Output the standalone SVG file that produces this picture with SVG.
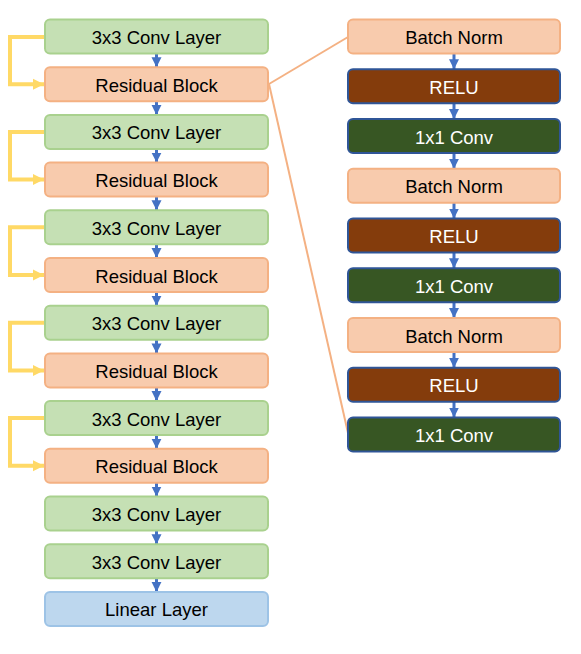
<svg xmlns="http://www.w3.org/2000/svg" width="581" height="654" viewBox="0 0 581 654">
<defs>
<style>
rect{stroke-width:2}
.conv rect{fill:#C5E0B4;stroke:#A9D18E}
.res rect,.bn rect{fill:#F8CBAD;stroke:#F4B183}
.lin rect{fill:#BDD7EE;stroke:#9DC3E6}
.relu rect{fill:#843C0C;stroke:#2F5597}
.c1 rect{fill:#375623;stroke:#2F5597}
text{font-family:"Liberation Sans",Arial,sans-serif;font-size:18.5px;text-anchor:middle;fill:#000}
.relu text,.c1 text{fill:#fff}
.ba{stroke:#4472C4;stroke-width:3;fill:none;marker-end:url(#bh)}
.ya{stroke:#FFD966;stroke-width:4;fill:none;marker-end:url(#yh)}
.ol{stroke:#F4B183;stroke-width:2;fill:none}
</style>
<marker id="bh" viewBox="0 0 10 10" refX="10" refY="5" markerWidth="10" markerHeight="12" markerUnits="userSpaceOnUse" orient="auto"><path d="M0,0 L10,5 L0,10 z" fill="#4472C4"/></marker>
<marker id="yh" viewBox="0 0 10 10" refX="10" refY="5" markerWidth="11" markerHeight="12" markerUnits="userSpaceOnUse" orient="auto"><path d="M0,0 L10,5 L0,10 z" fill="#FFD966"/></marker>
</defs>
<g id="connectors">
<line class="ol" x1="269" y1="84" x2="348" y2="37"/>
<line class="ol" x1="269" y1="84" x2="348" y2="433"/>
<path class="ya" d="M45,37 H10 V84.2 H44"/>
<path class="ya" d="M45,131.9 H10 V179.6 H44"/>
<path class="ya" d="M45,227.3 H10 V275 H44"/>
<path class="ya" d="M45,322.7 H10 V370.4 H44"/>
<path class="ya" d="M45,418.1 H10 V465.8 H44"/>
<line class="ba" x1="156.5" y1="53.5" x2="156.5" y2="67.2"/>
<line class="ba" x1="156.5" y1="101.2" x2="156.5" y2="114.9"/>
<line class="ba" x1="156.5" y1="148.9" x2="156.5" y2="162.6"/>
<line class="ba" x1="156.5" y1="196.6" x2="156.5" y2="210.3"/>
<line class="ba" x1="156.5" y1="244.3" x2="156.5" y2="258"/>
<line class="ba" x1="156.5" y1="292" x2="156.5" y2="305.7"/>
<line class="ba" x1="156.5" y1="339.7" x2="156.5" y2="353.4"/>
<line class="ba" x1="156.5" y1="387.4" x2="156.5" y2="401.1"/>
<line class="ba" x1="156.5" y1="435.1" x2="156.5" y2="448.8"/>
<line class="ba" x1="156.5" y1="482.8" x2="156.5" y2="496.5"/>
<line class="ba" x1="156.5" y1="530.5" x2="156.5" y2="544.2"/>
<line class="ba" x1="156.5" y1="578.2" x2="156.5" y2="591.9"/>
<line class="ba" x1="454" y1="53.5" x2="454" y2="69.25"/>
<line class="ba" x1="454" y1="103.25" x2="454" y2="119"/>
<line class="ba" x1="454" y1="153" x2="454" y2="168.75"/>
<line class="ba" x1="454" y1="202.75" x2="454" y2="218.5"/>
<line class="ba" x1="454" y1="252.5" x2="454" y2="268.25"/>
<line class="ba" x1="454" y1="302.25" x2="454" y2="318"/>
<line class="ba" x1="454" y1="352" x2="454" y2="367.75"/>
<line class="ba" x1="454" y1="401.75" x2="454" y2="417.5"/>
</g>
<g id="conv1" class="conv"><rect x="45" y="19.5" width="223" height="34" rx="5"/><text x="156.5" y="44">3x3 Conv Layer</text></g>
<g id="res1" class="res"><rect x="45" y="67.2" width="223" height="34" rx="5"/><text x="156.5" y="91.7">Residual Block</text></g>
<g id="conv2" class="conv"><rect x="45" y="114.9" width="223" height="34" rx="5"/><text x="156.5" y="139.4">3x3 Conv Layer</text></g>
<g id="res2" class="res"><rect x="45" y="162.6" width="223" height="34" rx="5"/><text x="156.5" y="187.1">Residual Block</text></g>
<g id="conv3" class="conv"><rect x="45" y="210.3" width="223" height="34" rx="5"/><text x="156.5" y="234.8">3x3 Conv Layer</text></g>
<g id="res3" class="res"><rect x="45" y="258" width="223" height="34" rx="5"/><text x="156.5" y="282.5">Residual Block</text></g>
<g id="conv4" class="conv"><rect x="45" y="305.7" width="223" height="34" rx="5"/><text x="156.5" y="330.2">3x3 Conv Layer</text></g>
<g id="res4" class="res"><rect x="45" y="353.4" width="223" height="34" rx="5"/><text x="156.5" y="377.9">Residual Block</text></g>
<g id="conv5" class="conv"><rect x="45" y="401.1" width="223" height="34" rx="5"/><text x="156.5" y="425.6">3x3 Conv Layer</text></g>
<g id="res5" class="res"><rect x="45" y="448.8" width="223" height="34" rx="5"/><text x="156.5" y="473.3">Residual Block</text></g>
<g id="conv6" class="conv"><rect x="45" y="496.5" width="223" height="34" rx="5"/><text x="156.5" y="521">3x3 Conv Layer</text></g>
<g id="conv7" class="conv"><rect x="45" y="544.2" width="223" height="34" rx="5"/><text x="156.5" y="568.7">3x3 Conv Layer</text></g>
<g id="linear" class="lin"><rect x="45" y="591.9" width="223" height="34" rx="5"/><text x="156.5" y="616.4">Linear Layer</text></g>
<g id="bn1" class="bn"><rect x="348" y="19.5" width="212" height="34" rx="5"/><text x="454" y="44">Batch Norm</text></g>
<g id="relu1" class="relu"><rect x="348" y="69.25" width="212" height="34" rx="5"/><text x="454" y="93.75">RELU</text></g>
<g id="c1x1a" class="c1"><rect x="348" y="119" width="212" height="34" rx="5"/><text x="454" y="143.5">1x1 Conv</text></g>
<g id="bn2" class="bn"><rect x="348" y="168.75" width="212" height="34" rx="5"/><text x="454" y="193.25">Batch Norm</text></g>
<g id="relu2" class="relu"><rect x="348" y="218.5" width="212" height="34" rx="5"/><text x="454" y="243">RELU</text></g>
<g id="c1x1b" class="c1"><rect x="348" y="268.25" width="212" height="34" rx="5"/><text x="454" y="292.75">1x1 Conv</text></g>
<g id="bn3" class="bn"><rect x="348" y="318" width="212" height="34" rx="5"/><text x="454" y="342.5">Batch Norm</text></g>
<g id="relu3" class="relu"><rect x="348" y="367.75" width="212" height="34" rx="5"/><text x="454" y="392.25">RELU</text></g>
<g id="c1x1c" class="c1"><rect x="348" y="417.5" width="212" height="34" rx="5"/><text x="454" y="442">1x1 Conv</text></g>
</svg>
